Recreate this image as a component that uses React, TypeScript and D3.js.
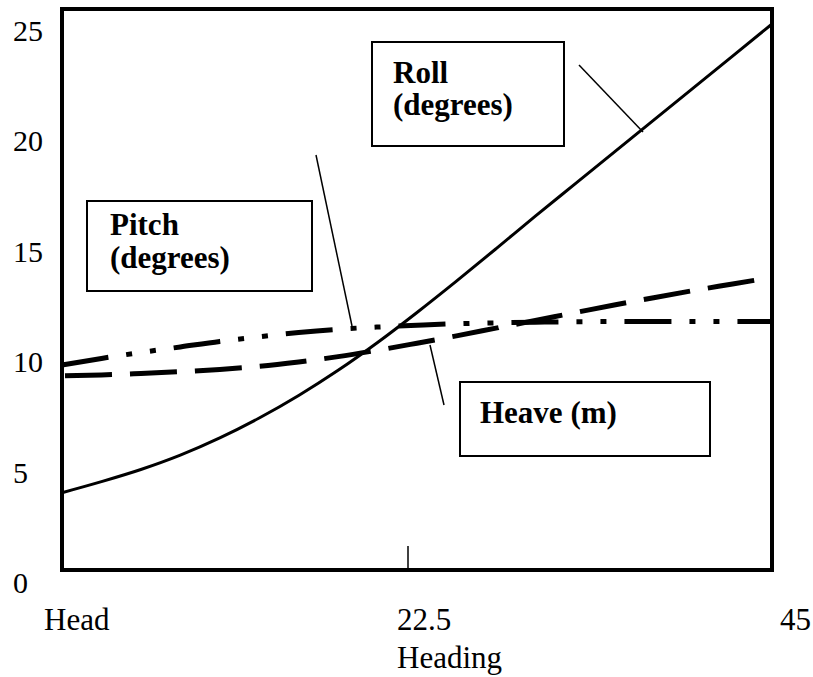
import React, { useEffect } from "react";
import * as d3 from "d3";

// ---- data ----
const headings = [0, 2.5, 5, 7.5, 10, 12.5, 15, 17.5, 20, 22.5, 25, 27.5, 30, 32.5, 35, 37.5, 40, 42.5, 45];
const roll = [3.5, 4.0, 4.55, 5.2, 5.98, 6.88, 7.9, 9.04, 10.3, 11.66, 13.08, 14.54, 16.02, 17.47, 18.92, 20.37, 21.82, 23.27, 24.72];
const pitch = [9.28, 9.58, 9.85, 10.1, 10.35, 10.56, 10.75, 10.9, 11.0, 11.08, 11.15, 11.19, 11.22, 11.24, 11.25, 11.25, 11.25, 11.25, 11.25];
const heave = [8.79, 8.83, 8.9, 8.98, 9.08, 9.22, 9.42, 9.66, 9.95, 10.27, 10.6, 10.95, 11.3, 11.65, 12.0, 12.33, 12.65, 12.95, 13.25];

const yTicks = [0, 5, 10, 15, 20, 25];
const xTickValues = [0, 22.5, 45];
const xTickLabels = ["Head", "22.5", "45"];
const xAxisTitle = "Heading";

// ---- layout / style ----
const W = 813;
const H = 677;
const plot = { left: 62, right: 772, top: 9, bottom: 570 };
const xLabelDx = [-18, -20, 8];
const font = "'Liberation Serif', 'Times New Roman', serif";

const x = d3.scaleLinear().domain([0, 45]).range([plot.left, plot.right]);
const y = d3.scaleLinear().domain([0, 25.4]).range([plot.bottom, plot.top]);

const line = (vals: number[]) =>
  d3
    .line<number>()
    .x((_, i) => x(headings[i]))
    .y((v) => y(v))
    .curve(d3.curveMonotoneX)(vals) || "";

export default function App() {
  useEffect(() => {
    document.body.style.margin = "0";
  }, []);

  return (
    <svg
      width={W}
      height={H}
      style={{ position: "absolute", left: 0, top: 0, background: "#fff" }}
      fontFamily={font}
    >
      <rect x={0} y={0} width={W} height={H} fill="#fff" />

      {/* series */}
      <path d={line(heave)} fill="none" stroke="#000" strokeWidth={5} strokeDasharray="47,18" strokeDashoffset={-3} />
      <path d={line(pitch)} fill="none" stroke="#000" strokeWidth={5} strokeDasharray="47,18,6,18,6,18" />
      <path d={line(roll)} fill="none" stroke="#000" strokeWidth={3} />

      {/* frame */}
      <rect
        x={plot.left}
        y={plot.top}
        width={plot.right - plot.left}
        height={plot.bottom - plot.top}
        fill="none"
        stroke="#000"
        strokeWidth={4}
      />
      {/* middle tick */}
      <line x1={x(22.5) - 9} x2={x(22.5) - 9} y1={plot.bottom - 24} y2={plot.bottom} stroke="#000" strokeWidth={1.5} />

      {/* y labels */}
      {yTicks.map((t) => (
        <text key={t} x={13} y={y(t) + 13} dy="0.34em" fontSize={30} fill="#000">
          {t}
        </text>
      ))}

      {/* x labels */}
      {xTickValues.map((v, i) => (
        <text key={v} x={x(v) + xLabelDx[i]} y={630} fontSize={31} fill="#000">
          {xTickLabels[i]}
        </text>
      ))}
      <text x={397} y={668} fontSize={31} fill="#000">
        {xAxisTitle}
      </text>

      {/* annotation boxes */}
      <rect x={372} y={42} width={192} height={104} fill="#fff" stroke="#000" strokeWidth={2} />
      <text x={393} y={83} fontSize={31} fontWeight="bold" fill="#000">Roll</text>
      <text x={393} y={115} fontSize={31} fontWeight="bold" fill="#000">(degrees)</text>
      <line x1={579} y1={65} x2={643} y2={132} stroke="#000" strokeWidth={1.5} />

      <rect x={87} y={201} width={225} height={90} fill="#fff" stroke="#000" strokeWidth={2} />
      <text x={110} y={235} fontSize={31} fontWeight="bold" fill="#000">Pitch</text>
      <text x={110} y={268} fontSize={31} fontWeight="bold" fill="#000">(degrees)</text>
      <line x1={316} y1={155} x2={352} y2={326} stroke="#000" strokeWidth={1.5} />

      <rect x={460} y={382} width={250} height={74} fill="#fff" stroke="#000" strokeWidth={2} />
      <text x={480} y={423} fontSize={31} fontWeight="bold" fill="#000">Heave (m)</text>
      <line x1={430} y1={345} x2={444} y2={405} stroke="#000" strokeWidth={1.5} />
    </svg>
  );
}
